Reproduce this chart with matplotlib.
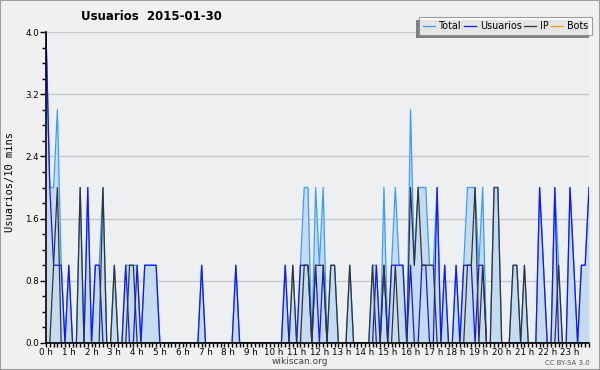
import matplotlib
matplotlib.use("Agg")
import matplotlib.pyplot as plt
import numpy as np
from matplotlib.patches import Rectangle

# 10-minute slots over the day (144 points)
n_slots = 144

# Non-zero Usuarios values by slot index
usuarios_nz = {
    0: 4, 1: 2, 2: 1, 3: 1, 4: 1, 6: 1, 11: 2, 13: 1, 14: 1, 21: 1, 24: 1,
    26: 1, 27: 1, 28: 1, 29: 1, 41: 1, 50: 1, 63: 1, 67: 1, 68: 1, 69: 1,
    71: 1, 73: 1, 87: 1, 89: 1, 91: 1, 92: 1, 93: 1, 94: 1, 96: 1, 99: 1,
    100: 1, 103: 2, 105: 1, 108: 1, 110: 1, 111: 1, 112: 1, 114: 1, 115: 1,
    130: 2, 131: 1, 134: 2, 138: 2, 139: 1, 141: 1, 142: 1, 143: 2,
}

# Non-zero IP values by slot index
ip_nz = {
    2: 1, 3: 2, 9: 2, 15: 2, 18: 1, 22: 1, 23: 1, 65: 1, 68: 1, 69: 1,
    71: 1, 72: 1, 73: 1, 75: 1, 76: 1, 80: 1, 86: 1, 89: 1, 92: 1, 96: 2,
    97: 1, 98: 2, 99: 1, 100: 1, 101: 1, 102: 1, 111: 1, 112: 1, 113: 2,
    115: 1, 118: 2, 119: 2, 123: 1, 124: 1, 126: 1, 135: 1,
}

usuarios = np.array([usuarios_nz.get(i, 0) for i in range(n_slots)], dtype=float)
ip = np.array([ip_nz.get(i, 0) for i in range(n_slots)], dtype=float)
bots = np.zeros(n_slots)
total = usuarios + ip + bots

hour_labels = ["%d h" % h for h in range(24)]

fig = plt.figure(figsize=(6, 3.7), dpi=100, facecolor="#f0f0f0")
fig.patches.append(
    Rectangle((0, 0), 1, 1, transform=fig.transFigure, fill=False,
              edgecolor="#a0a0a0", linewidth=1.5)
)

ax = fig.add_axes([46 / 600, 27 / 370, 543 / 600, 311 / 370])
ax.set_facecolor("#eeeff1")

x = np.arange(n_slots)

ax.plot(x, bots, color="#ff9900", linewidth=0.9, zorder=2, label="Bots")
ax.fill_between(x, total, 0, color="#c5dcf0", linewidth=0, zorder=1)
ax.plot(x, total, color="#3a9cff", linewidth=0.9, zorder=3, label="Total")
ax.plot(x, usuarios, color="#1414ff", linewidth=0.9, zorder=4, label="Usuarios")
ax.plot(x, ip, color="#333333", linewidth=0.9, zorder=5, label="IP")

ax.set_xlim(0, n_slots - 1)
ax.set_ylim(0, 4.0)

ax.set_yticks(np.arange(0, 4.01, 0.8))
ax.set_yticklabels(["%.1f" % v for v in np.arange(0, 4.01, 0.8)])
ax.set_yticks(np.arange(0, 4.01, 0.2), minor=True)
ax.set_xticks(np.arange(0, n_slots, 6))
ax.set_xticklabels(hour_labels)
ax.set_xticks(np.arange(0, n_slots), minor=True)

ax.tick_params(axis="x", which="major", length=3, width=1, labelsize=6.3, pad=0.5)
ax.tick_params(axis="x", which="minor", length=3, width=1)
ax.tick_params(axis="y", which="major", length=4, width=1, labelsize=6.3, pad=1)
ax.tick_params(axis="y", which="minor", length=3, width=1)

ax.grid(axis="y", which="major", color="#c8c8c8", linewidth=1)
ax.set_axisbelow(True)
for side in ["top", "right"]:
    ax.spines[side].set_visible(False)
for side in ["left", "bottom"]:
    ax.spines[side].set_linewidth(1.2)
    ax.spines[side].set_zorder(6)

fig.text(151 / 600, 1 - 16 / 370, "Usuarios  2015-01-30", ha="center",
         va="center", fontsize=8.5, fontweight="bold")
fig.text(10 / 600, 188 / 370, "Usuarios/10 mins", rotation=90, ha="center",
         va="center", fontsize=7.5, family="DejaVu Sans Mono")
fig.text(300 / 600, 1 - 362 / 370, "wikiscan.org", ha="center", va="center",
         fontsize=6.5, color="#444444")
fig.text(590 / 600, 1 - 363 / 370, "CC BY-SA 3.0", ha="right", va="center",
         fontsize=5, color="#555555")

handles, labels = ax.get_legend_handles_labels()
order = ["Total", "Usuarios", "IP", "Bots"]
hmap = dict(zip(labels, handles))
leg = fig.legend(
    [hmap[k] for k in order], order, loc="upper right",
    bbox_to_anchor=(592 / 600, 1 - 17 / 370), ncol=4, fontsize=6.9,
    frameon=True, fancybox=False, shadow=False, handlelength=1.3,
    handletextpad=0.35, columnspacing=0.25, borderpad=0.42, borderaxespad=0,
)
leg.get_frame().set_edgecolor("#888888")
leg.get_frame().set_facecolor("white")
leg.get_frame().set_linewidth(0.8)

# Shadow offset to the lower left, as in the reference
fig.canvas.draw()
bb = leg.get_window_extent().transformed(fig.transFigure.inverted())
fig.patches.append(
    Rectangle((bb.x0 - 3 / 600, bb.y0 - 3 / 370), bb.width, bb.height,
              transform=fig.transFigure, facecolor="#808080", edgecolor="none",
              zorder=0)
)

fig.savefig("out.png", dpi=100, facecolor=fig.get_facecolor())
